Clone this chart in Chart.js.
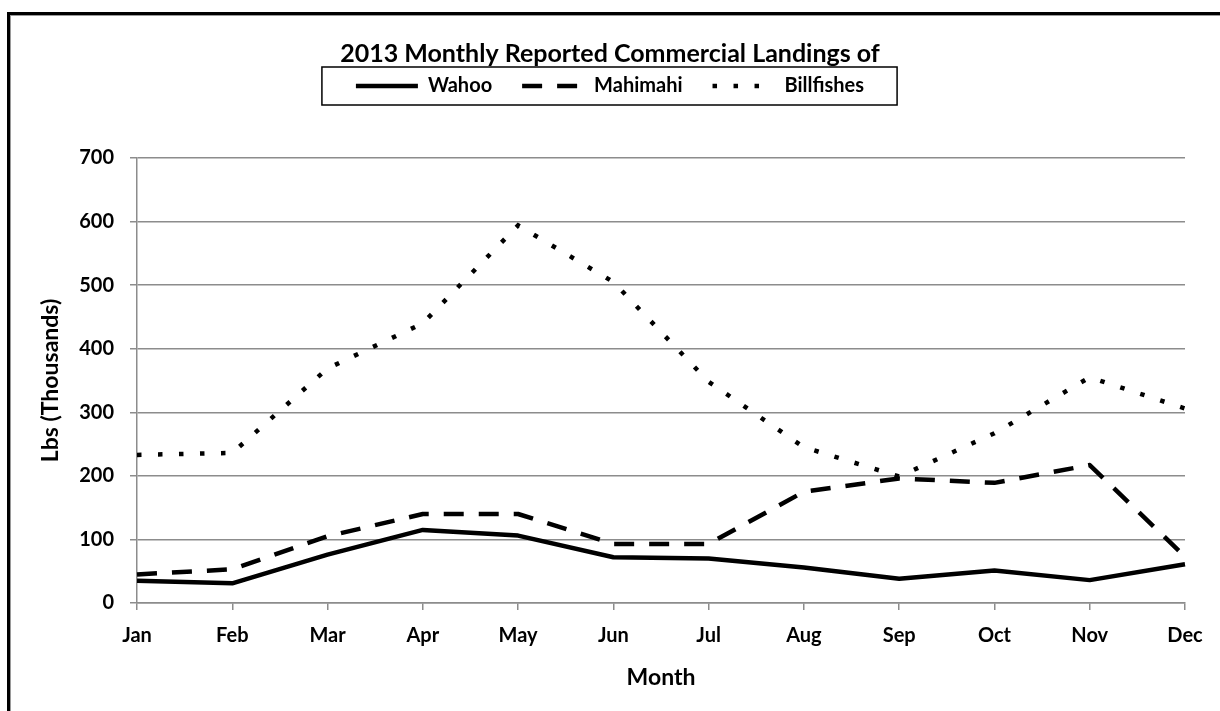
<!DOCTYPE html>
<html>
<head>
<meta charset="utf-8">
<script src="https://cdn.jsdelivr.net/npm/chart.js@4.4.1/dist/chart.umd.min.js"></script>
<style>
  html, body { margin: 0; padding: 0; background: #fff; overflow: hidden; }
  #wrap { position: relative; width: 1220px; height: 711px; overflow: hidden; }
  #frame { position: absolute; left: 7px; top: 12px; width: 2000px; height: 2000px;
           border-left: 3px solid #000; border-top: 3px solid #000;
           box-shadow: inset 1px 1px 0 #9a9a9a; }
  canvas { position: absolute; left: 0; top: 0; }
</style>
</head>
<body>
<div id="wrap">
  <div id="frame"></div>
  <canvas id="c" width="1220" height="711"></canvas>
</div>
<script>
// ---- data ----
const months = ["Jan","Feb","Mar","Apr","May","Jun","Jul","Aug","Sep","Oct","Nov","Dec"];
const wahoo = [35, 31, 76, 115, 106, 72, 70, 56, 38, 51, 36, 61];
const mahimahi = [45, 53, 105, 140, 140, 93, 93, 175, 196, 189, 217, 73];
const billfishes = [233, 236, 369, 440, 594, 505, 348, 245, 199, 267, 355, 306];
const seriesNames = ["Wahoo", "Mahimahi", "Billfishes"];
const chartTitle = "2013 Monthly Reported Commercial Landings of";
const xTitle = "Month";
const yTitle = "Lbs (Thousands)";

const FONT = "Lato, 'Open Sans', sans-serif";

const legendFrame = {
  id: 'legendFrame',
  afterDraw(chart) {
    const lg = chart.legend;
    if (!lg || !lg.legendHitBoxes || !lg.legendHitBoxes.length) return;
    const hb = lg.legendHitBoxes;
    const first = hb[0], last = hb[hb.length - 1];
    const cy = first.top + first.height / 2;
    const x0 = first.left - 34, x1 = last.left + last.width + 33;
    const ctx = chart.ctx;
    ctx.save();
    ctx.strokeStyle = '#000';
    ctx.lineWidth = 1.5;
    ctx.strokeRect(x0, cy - 19, x1 - x0, 38);
    ctx.restore();
  }
};

new Chart(document.getElementById('c'), {
  type: 'line',
  data: {
    labels: months,
    datasets: [
      { label: seriesNames[0], data: wahoo, borderColor: '#000', backgroundColor: '#000',
        borderWidth: 4.5, borderCapStyle: 'butt', borderJoinStyle: 'round', pointRadius: 0, tension: 0 },
      { label: seriesNames[1], data: mahimahi, borderColor: '#000', backgroundColor: '#000',
        borderWidth: 4.5, borderDash: [20, 15], borderCapStyle: 'butt', borderJoinStyle: 'round', pointRadius: 0, tension: 0 },
      { label: seriesNames[2], data: billfishes, borderColor: '#000', backgroundColor: '#000',
        borderWidth: 4.5, borderDash: [4.5, 16.5], borderCapStyle: 'butt', borderJoinStyle: 'miter', pointRadius: 0, tension: 0 }
    ]
  },
  options: {
    responsive: false,
    animation: false,
    devicePixelRatio: 1,
    layout: { padding: { left: 35, right: 35, top: 12, bottom: 18 } },
    plugins: {
      title: {
        display: true, text: chartTitle, color: '#000',
        font: { family: FONT, size: 25, weight: 'bold', lineHeight: 1.2 },
        padding: { top: 27, bottom: -23 }
      },
      subtitle: {
        display: true, text: ' ', position: 'top', weight: 500,
        font: { size: 10, lineHeight: 1 },
        padding: { top: 0, bottom: 42 }
      },
      legend: {
        display: true, position: 'top',
        labels: {
          usePointStyle: true, pointStyle: 'line', pointStyleWidth: 62,
          color: '#000', padding: 30,
          font: { family: FONT, size: 20, weight: 'bold' },
          generateLabels(chart) {
            return chart.data.datasets.map((ds, i) => ({
              text: ds.label,
              fillStyle: '#000',
              strokeStyle: '#000',
              fontColor: '#000',
              lineWidth: ds.borderWidth,
              lineDash: ds.borderDash || [],
              lineCap: ds.borderCapStyle || 'butt',
              lineJoin: 'miter',
              pointStyle: 'line',
              hidden: false,
              datasetIndex: i
            }));
          }
        }
      },
      tooltip: { enabled: false }
    },
    scales: {
      x: {
        type: 'category',
        offset: false,
        afterFit(s) { s.height = 90; },
        grid: { display: true, drawOnChartArea: false, drawTicks: true, tickLength: 7, color: '#8c8c8c', lineWidth: 1.5 },
        border: { display: true, color: '#8c8c8c', width: 1.5 },
        ticks: { color: '#000', padding: 14, maxRotation: 0, autoSkip: false,
                 font: { family: FONT, size: 20, weight: 'bold' } },
        title: { display: true, text: xTitle, color: '#000', padding: { top: 0, bottom: 2 },
                 font: { family: FONT, size: 23, weight: 'bold', lineHeight: 1.2 } }
      },
      y: {
        min: 0, max: 700,
        afterFit(s) { s.width = 102; },
        grid: { color: '#8c8c8c', lineWidth: 1.5, tickLength: 7, drawTicks: true },
        border: { display: true, color: '#8c8c8c', width: 1.5 },
        ticks: { stepSize: 100, color: '#000', padding: 16,
                 font: { family: FONT, size: 20, weight: 'bold' } },
        title: { display: true, text: yTitle, color: '#000', padding: { top: 2, bottom: 0 },
                 font: { family: FONT, size: 23, weight: 'bold', lineHeight: 1.2 } }
      }
    }
  },
  plugins: [legendFrame]
});
</script>
</body>
</html>
